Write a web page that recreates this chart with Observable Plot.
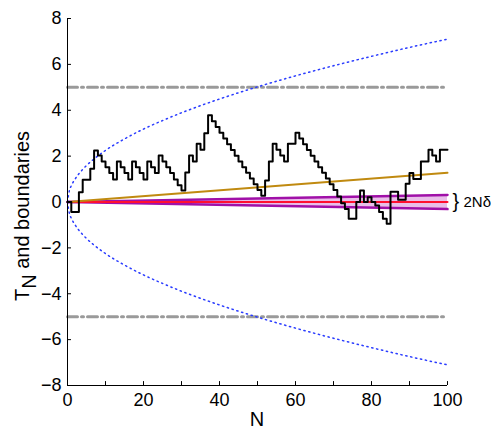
<!DOCTYPE html>
<html><head><meta charset="utf-8">
<script src="https://cdn.jsdelivr.net/npm/d3@7"></script>
<script src="https://cdn.jsdelivr.net/npm/@observablehq/plot@0.6"></script>
<style>
body{margin:0;background:#fff}
#chart{position:relative;width:491px;height:430px}
svg{font-family:Arial,"Liberation Sans",sans-serif}
</style>
</head><body><div id="chart"></div>
<script>
// Test statistic T_N (stairs), value held on [N, N+1)
const stepN = d3.range(0, 101);
const stepT = [
  0, -0.44, -0.44, 0.43, 0.97, 0.97, 1.45, 2.25, 2.03, 1.77,
  1.52, 1.26, 0.98, 1.77, 1.52, 1.26, 0.98, 1.77, 1.52, 1.26,
  0.98, 1.77, 1.52, 1.26, 2.03, 1.77, 1.52, 1.26, 0.98, 0.73,
  0.5, 1.29, 2.03, 1.77, 2.54, 2.28, 3.0, 3.78, 3.52, 3.27,
  3.02, 2.77, 2.52, 2.27, 2.02, 1.77, 1.52, 1.27, 1.02, 0.77,
  0.52, 0.27, 0.94, 1.77, 2.54, 2.28, 2.03, 1.77, 2.54, 2.54,
  3.02, 2.77, 2.52, 2.27, 2.02, 1.77, 1.52, 1.27, 1.02, 0.77,
  0.52, 0.24, -0.05, -0.3, -0.73, -0.73, 0.0, 0.5, 0.0, 0.21,
  0.0, -0.15, -0.44, -0.73, -0.95, 0.45, 0.45, 0.1, 0.1, 0.8,
  1.26, 1.0, 1.0, 1.77, 1.77, 2.28, 2.03, 1.77, 2.28, 2.28,
  2.28
];
// Blue dotted boundaries
const boundN     = [0, 0.5, 1, 2, 3, 5, 7, 10, 15, 20, 25, 30, 40, 50, 60, 70, 80, 90, 100];
const boundUpper = [0, 0.5, 0.71, 1.0, 1.23, 1.59, 1.88, 2.25, 2.75, 3.18, 3.55, 3.89, 4.49, 5.02, 5.5, 5.94, 6.35, 6.74, 7.1];
const boundLower = [0, -0.5, -0.71, -1.0, -1.23, -1.59, -1.88, -2.25, -2.75, -3.18, -3.55, -3.89, -4.49, -5.02, -5.5, -5.94, -6.35, -6.74, -7.1];
// Gray dash-dot limits
const limitN = [0, 100];
const limitUpper = [5, 5];
const limitLower = [-5, -5];
// Orange drift line
const driftN = [0, 100];
const driftT = [0, 1.27];
// Pink band (2N delta) and red centre
const bandN = [0, 100];
const bandUpper = [0, 0.31];
const bandLower = [0, -0.31];
const centreT = [0, 0];
// Axes
const xTickLabels = [0, 20, 40, 60, 80, 100];
const xTickMarks = [10, 20, 30, 40, 50, 60, 70, 80, 90, 100];
const yTickLabels = [-8, -6, -4, -2, 0, 2, 4, 6, 8];

const steps = stepN.map((n, i) => ({N: n, T: stepT[i]}));
const bound = boundN.map((n, i) => ({N: n, up: boundUpper[i], lo: boundLower[i]}));
const limits = limitN.map((n, i) => ({N: n, up: limitUpper[i], lo: limitLower[i]}));
const drift = driftN.map((n, i) => ({N: n, T: driftT[i]}));
const band = bandN.map((n, i) => ({N: n, up: bandUpper[i], lo: bandLower[i], c: centreT[i]}));

const xTickLen = 0.17;   // in y units (~4px)
const yTickLen = 1.05;   // in x units (~4px)

const plot = Plot.plot({
  width: 491, height: 430,
  marginLeft: 67, marginRight: 44, marginTop: 18, marginBottom: 45,
  x: {domain: [0, 100]},
  y: {domain: [-8, 8]},
  style: {fontFamily: "Arial, 'Liberation Sans', sans-serif", fontSize: "18px", background: "white", overflow: "visible", color: "black"},
  marks: [
    Plot.areaY(band, {x: "N", y1: "lo", y2: "up", fill: "#e9bfe9"}),
    Plot.line(band, {x: "N", y: "up", stroke: "#a010a8", strokeWidth: 2.5}),
    Plot.line(band, {x: "N", y: "lo", stroke: "#a010a8", strokeWidth: 2.5}),
    Plot.line(band, {x: "N", y: "c", stroke: "#ff1030", strokeWidth: 2}),
    Plot.line(drift, {x: "N", y: "T", stroke: "#c08a10", strokeWidth: 2}),
    Plot.line(limits, {x: "N", y: "up", stroke: "#9a9a9a", strokeWidth: 3, strokeDasharray: "10,4,2,4"}),
    Plot.line(limits, {x: "N", y: "lo", stroke: "#9a9a9a", strokeWidth: 3, strokeDasharray: "10,4,2,4"}),
    Plot.line(bound, {x: "N", y: "up", stroke: "#2a3cff", strokeWidth: 1.5, strokeDasharray: "1.3,3.7", curve: "monotone-x"}),
    Plot.line(bound, {x: "N", y: "lo", stroke: "#2a3cff", strokeWidth: 1.5, strokeDasharray: "1.3,3.7", curve: "monotone-x"}),
    Plot.line(steps, {x: "N", y: "T", curve: "step-after", stroke: "black", strokeWidth: 2}),
    Plot.ruleX([0], {stroke: "black", strokeWidth: 1}),
    Plot.ruleY([-8], {stroke: "black", strokeWidth: 1}),
    Plot.ruleX(xTickMarks, {y1: -8, y2: -8 + xTickLen, stroke: "black"}),
    Plot.ruleY(yTickLabels, {x1: 0, x2: yTickLen, stroke: "black"}),
    Plot.axisX(xTickLabels, {tickSize: 0, tickPadding: 8, label: null, fontSize: 18}),
    Plot.axisY(yTickLabels, {tickSize: 0, tickPadding: 6, label: null, fontSize: 18}),
    Plot.text([{N: 100, T: 0}], {x: "N", y: "T", text: () => "}", dx: 5, textAnchor: "start", fontSize: 20}),
    Plot.text([{N: 100, T: 0}], {x: "N", y: "T", text: () => "2Nδ", dx: 16, textAnchor: "start", fontSize: 15})
  ]
});

const svg = d3.select(plot);
// x label
svg.append("text").attr("x", 257).attr("y", 426).attr("text-anchor", "middle")
  .attr("font-size", 20).attr("fill", "black").text("N");
// y label with subscript
const yl = svg.append("text").attr("transform", "translate(29,216) rotate(-90)")
  .attr("text-anchor", "middle").attr("font-size", 20).attr("fill", "black");
yl.append("tspan").text("T");
yl.append("tspan").attr("font-size", 20).attr("dy", 7).text("N");
yl.append("tspan").attr("dy", -7).text(" and boundaries");

document.getElementById("chart").appendChild(plot);
</script>
</body></html>
